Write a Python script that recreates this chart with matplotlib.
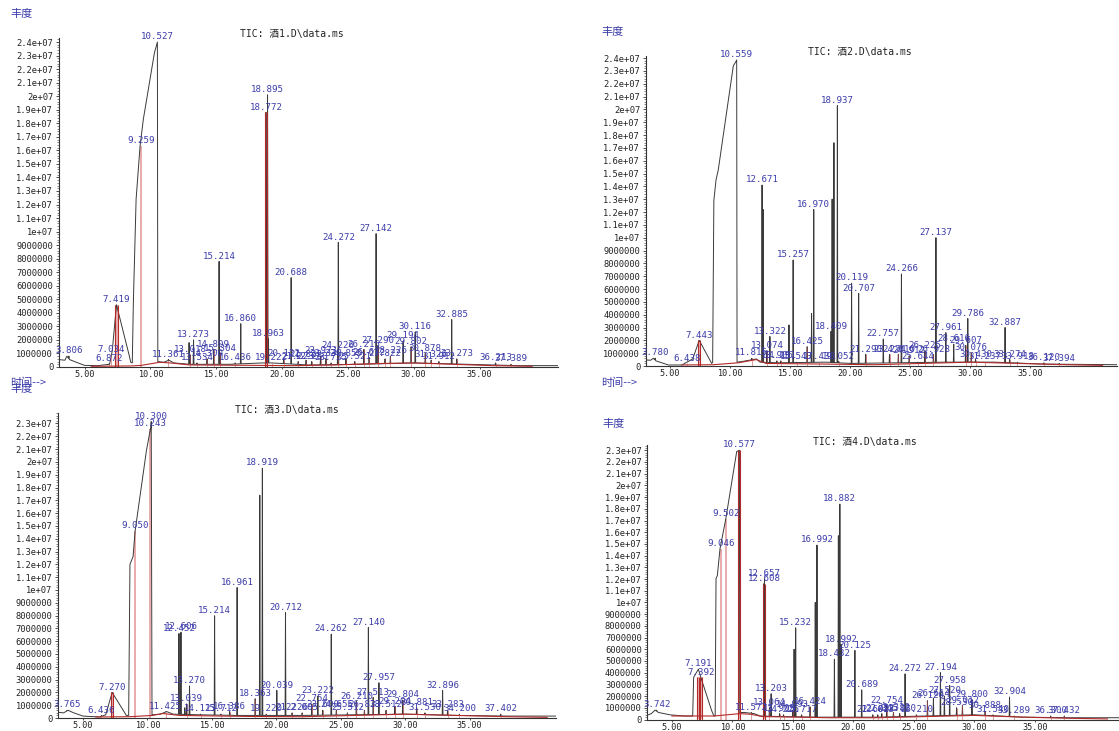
import numpy as np
import matplotlib
matplotlib.use("Agg")
import matplotlib.pyplot as plt
from matplotlib.ticker import FixedLocator, FuncFormatter, MultipleLocator

plt.rcParams['font.family'] = ['DejaVu Sans Mono', 'Noto Sans CJK SC']

# ------------------------------------------------------------------ data
titles = ["TIC: 酒1.D\\data.ms", "TIC: 酒2.D\\data.ms",
          "TIC: 酒3.D\\data.ms", "TIC: 酒4.D\\data.ms"]
y_axis_name = "丰度"
x_axis_name = "时间-->"
x_ticks = [5, 10, 15, 20, 25, 30, 35]

# ---- sample 1 (abundance in millions)
p1_base_t = [3.03, 3.5, 3.65, 3.85, 4.5, 5.0, 6.0, 6.9, 7.1, 7.419, 8.40, 8.5, 8.62, 8.70,
             8.91, 9.21, 9.46, 10.30, 10.50, 10.527, 10.56, 11.0, 11.4, 11.8, 13.0, 16.0,
             18.5, 19.2, 22.0, 26.0, 30.0, 34.0, 38.0, 40.96]
p1_base_h = [0.55, 0.5, 0.8, 0.55, 0.3, 0.12, 0.1, 0.2, 1.2, 4.6, 0.8, 0.35, 0.3, 4.7,
             12.4, 16.3, 18.3, 23.2, 23.9, 24.0, 0.4, 0.35, 0.5, 0.3, 0.2, 0.2,
             0.3, 0.3, 0.15, 0.2, 0.3, 0.2, 0.1, 0.1]
p1_peak_t = [3.806, 6.872, 7.034, 7.419, 9.259, 10.527, 11.361, 13.018, 13.273, 13.534,
             14.300, 14.809, 15.214, 15.304, 16.436, 16.860, 18.772, 18.895, 18.963, 19.222,
             20.122, 20.688, 21.223, 21.822, 22.253, 22.923, 23.338, 23.725, 24.226, 24.272,
             24.855, 25.521, 26.215, 26.612, 27.142, 27.290, 27.822, 28.226, 29.194, 29.802,
             30.116, 30.878, 31.326, 31.912, 32.885, 33.273, 36.213, 37.389]
p1_peak_h = [0.8, 0.25, 0.9, 4.6, 16.3, 24.0, 0.55, 0.9, 2.0, 0.3,
             0.6, 1.3, 7.8, 1.0, 0.3, 3.2, 18.8, 20.1, 2.1, 0.3,
             0.6, 6.6, 0.4, 0.5, 0.4, 0.8, 0.6, 0.3, 1.2, 9.2,
             0.6, 0.4, 1.3, 0.7, 9.85, 1.6, 0.6, 0.8, 1.9, 1.5,
             2.6, 1.0, 0.5, 0.4, 3.5, 0.6, 0.3, 0.2]
p1_extra_t = [12.934]
p1_extra_h = [1.8]
p1_dark_t = [7.419, 18.772]
p1_dark_h = [4.6, 18.8]
p1_light_t = [9.259]
p1_light_h = [16.3]
p1_rb_t = [5.5, 8.6, 9.3, 10.7, 11.5, 13.0, 18.0, 21.0, 24.0, 27.0, 30.0, 33.0, 36.0, 39.0]
p1_rb_h = [0.05, 0.08, 0.12, 0.35, 0.3, 0.15, 0.12, 0.1, 0.15, 0.25, 0.3, 0.2, 0.1, 0.05]

# ---- sample 2
p2_base_t = [2.99, 3.4, 3.62, 3.85, 4.87, 6.0, 6.9, 7.443, 8.48, 8.56, 8.66, 8.84, 9.03,
             10.28, 10.48, 10.559, 10.59, 11.0, 12.2, 12.5, 14.0, 18.0, 20.0, 24.0, 28.0,
             32.0, 36.0, 42.2]
p2_base_h = [0.47, 0.45, 0.6, 0.4, 0.08, 0.08, 0.55, 2.0, 0.2, 0.3, 12.9, 14.5, 15.3,
             23.4, 23.7, 23.85, 0.3, 0.35, 0.55, 0.3, 0.25, 0.3, 0.2, 0.25, 0.3,
             0.3, 0.15, 0.1]
p2_peak_t = [3.780, 6.438, 7.443, 10.559, 11.815, 12.671, 13.074, 13.322, 13.905, 14.231,
             15.257, 15.543, 16.425, 16.970, 17.430, 18.409, 18.937, 19.052, 20.119, 20.707,
             21.290, 22.757, 23.274, 24.010, 24.266, 24.912, 25.644, 26.225, 26.928, 27.137,
             27.961, 28.616, 29.607, 29.786, 30.076, 30.430, 31.237, 32.887, 33.274, 33.918,
             36.120, 37.394]
p2_peak_h = [0.6, 0.2, 2.0, 23.85, 0.6, 14.1, 1.2, 2.3, 0.4, 0.4,
             8.26, 0.3, 1.5, 12.2, 0.3, 2.7, 20.3, 0.35, 6.45, 5.65,
             0.9, 2.1, 0.9, 0.9, 7.17, 0.8, 0.3, 1.2, 0.9, 10.0,
             2.6, 1.7, 1.6, 3.7, 1.0, 0.5, 0.3, 3.0, 0.5, 0.3,
             0.25, 0.2]
p2_extra_t = [12.757, 14.910, 16.790, 18.500, 18.650]
p2_extra_h = [12.2, 3.2, 4.1, 13.0, 17.4]
p2_dark_t = [7.443]
p2_dark_h = [2.0]
p2_light_t = []
p2_light_h = []
p2_rb_t = [6.0, 8.6, 10.7, 12.2, 13.0, 18.0, 22.0, 26.0, 30.0, 34.0, 38.0, 41.0]
p2_rb_h = [0.08, 0.1, 0.25, 0.5, 0.2, 0.15, 0.1, 0.2, 0.3, 0.2, 0.1, 0.05]

# ---- sample 3
p3_base_t = [3.07, 3.5, 3.85, 4.3, 5.0, 6.3, 6.77, 7.27, 8.37, 8.55, 8.65, 8.89, 9.05,
             9.93, 10.243, 10.30, 10.36, 11.0, 11.5, 12.0, 14.0, 17.0, 19.0, 22.0, 26.0,
             30.0, 34.0, 38.0, 41.69]
p3_base_h = [0.45, 0.4, 0.6, 0.4, 0.15, 0.08, 0.25, 2.0, 0.2, 0.2, 12.0, 12.6, 14.6,
             20.9, 22.6, 22.7, 0.25, 0.3, 0.5, 0.3, 0.25, 0.2, 0.2, 0.2, 0.25,
             0.3, 0.2, 0.15, 0.15]
p3_peak_t = [3.765, 6.436, 7.270, 9.050, 10.243, 10.300, 11.425, 12.452, 12.606, 13.039,
             13.270, 14.123, 15.214, 15.712, 16.386, 16.961, 18.363, 18.919, 19.220, 20.039,
             20.712, 21.226, 22.005, 22.754, 23.222, 23.600, 24.262, 24.655, 25.512, 26.210,
             26.833, 27.140, 27.513, 27.957, 28.512, 29.204, 29.804, 30.881, 31.530, 32.896,
             33.283, 34.200, 37.402]
p3_peak_h = [0.6, 0.2, 2.0, 14.6, 22.6, 23.15, 0.5, 6.6, 6.7, 1.1,
             2.5, 0.3, 7.98, 0.3, 0.5, 10.19, 1.5, 19.5, 0.3, 2.15,
             8.24, 0.4, 0.4, 1.1, 1.7, 0.6, 6.55, 0.6, 0.4, 1.3,
             0.6, 7.08, 1.6, 2.75, 0.6, 0.9, 1.4, 0.8, 0.4, 2.15,
             0.6, 0.3, 0.3]
p3_extra_t = [12.900, 18.720]
p3_extra_h = [0.8, 17.4]
p3_dark_t = [7.270]
p3_dark_h = [2.0]
p3_light_t = [9.050, 10.243]
p3_light_h = [14.6, 22.6]
p3_rb_t = [6.0, 8.6, 10.4, 11.2, 12.5, 18.0, 22.0, 26.0, 30.0, 34.0, 38.0, 41.0]
p3_rb_h = [0.08, 0.1, 0.2, 0.35, 0.2, 0.12, 0.1, 0.2, 0.3, 0.2, 0.1, 0.05]

# ---- sample 4
p4_base_t = [2.97, 3.3, 3.61, 3.9, 4.85, 6.0, 6.72, 6.80, 7.191, 7.392, 8.29, 8.48, 8.58,
             8.65, 8.76, 8.98, 9.45, 10.36, 10.50, 10.577, 10.62, 11.0, 11.8, 12.3, 14.0,
             17.0, 19.5, 22.0, 26.0, 30.0, 34.0, 38.0, 41.95]
p4_base_h = [0.37, 0.5, 0.8, 0.6, 0.4, 0.3, 0.3, 3.6, 4.3, 3.6, 0.75, 0.3, 0.3,
             12.05, 12.3, 14.6, 17.1, 22.9, 22.95, 23.0, 0.6, 0.6, 0.5, 0.3, 0.25,
             0.2, 0.2, 0.2, 0.3, 0.4, 0.2, 0.15, 0.15]
p4_peak_t = [3.742, 7.191, 7.392, 9.046, 9.502, 10.577, 11.572, 12.608, 12.657, 13.064,
             13.203, 13.905, 14.226, 14.993, 15.232, 15.717, 16.424, 16.992, 18.432, 18.882,
             18.992, 20.125, 20.689, 21.602, 22.013, 22.345, 22.754, 23.312, 23.820, 24.272,
             25.210, 26.120, 26.614, 27.194, 27.520, 27.958, 28.530, 29.012, 29.800, 30.888,
             31.540, 32.904, 33.289, 36.300, 37.432]
p4_peak_h = [0.8, 4.3, 3.6, 14.6, 17.1, 23.0, 0.6, 11.6, 12.0, 1.0,
             2.2, 0.5, 0.4, 0.8, 7.83, 0.4, 1.07, 14.9, 5.15, 18.4,
             6.4, 5.9, 2.53, 0.4, 0.4, 0.5, 1.2, 0.6, 0.5, 3.9,
             0.4, 1.6, 1.8, 4.0, 2.0, 2.9, 1.0, 1.2, 1.7, 0.7,
             0.4, 1.92, 0.3, 0.3, 0.3]
p4_extra_t = [15.100, 16.850, 18.760]
p4_extra_h = [6.0, 10.0, 15.7]
p4_dark_t = [7.191, 7.392, 10.577, 12.608]
p4_dark_h = [3.6, 3.6, 23.0, 11.6]
p4_light_t = [9.046, 9.502]
p4_light_h = [14.6, 17.1]
p4_rb_t = [5.0, 8.5, 10.6, 11.5, 12.5, 18.0, 22.0, 26.0, 30.0, 34.0, 38.0, 41.0]
p4_rb_h = [0.3, 0.3, 0.5, 0.45, 0.25, 0.15, 0.15, 0.25, 0.35, 0.2, 0.1, 0.05]

samples = [
    (p1_base_t, p1_base_h, p1_peak_t, p1_peak_h, p1_extra_t, p1_extra_h,
     p1_dark_t, p1_dark_h, p1_light_t, p1_light_h, p1_rb_t, p1_rb_h),
    (p2_base_t, p2_base_h, p2_peak_t, p2_peak_h, p2_extra_t, p2_extra_h,
     p2_dark_t, p2_dark_h, p2_light_t, p2_light_h, p2_rb_t, p2_rb_h),
    (p3_base_t, p3_base_h, p3_peak_t, p3_peak_h, p3_extra_t, p3_extra_h,
     p3_dark_t, p3_dark_h, p3_light_t, p3_light_h, p3_rb_t, p3_rb_h),
    (p4_base_t, p4_base_h, p4_peak_t, p4_peak_h, p4_extra_t, p4_extra_h,
     p4_dark_t, p4_dark_h, p4_light_t, p4_light_h, p4_rb_t, p4_rb_h),
]

# ------------------------------------------------------------------ layout / style
W, H = 1119, 731
# (left, right, top, bottom) in pixels, y max, x limits
layout = [
    ((58.7, 558.0, 38.0, 367.0), 24.3e6, (3.03, 40.96)),
    ((645.7, 1117.0, 56.0, 366.0), 24.16e6, (2.99, 42.2)),
    ((58.0, 556.0, 413.0, 718.0), 23.82e6, (3.07, 41.69)),
    ((647.3, 1119.0, 445.0, 719.5), 23.45e6, (2.97, 41.95)),
]
title_pos = [(292, 34), (860, 52), (287, 410), (865, 442)]
yname_pos = [(10, 14), (601, 32), (10, 389), (602, 424)]
xname_pos = [(10, 383), (601, 383)]

BLUE = '#3d3dab'
TRACE = '#3a3a3a'
RED = '#b22a2a'
PINK = '#eab0b0'
LIGHTRED = '#e39494'
M = 1e6

fig = plt.figure(figsize=(W / 100, H / 100), dpi=100)


def build_trace(bt, bh, pt, ph, w=0.03):
    bt = np.asarray(bt, float)
    bh = np.asarray(bh, float)
    pts = list(zip(bt, bh))
    for t, h in sorted(zip(pt, ph)):
        if h <= np.interp(t, bt, bh) + 1e-9:
            continue
        lo, hi = t - w, t + w
        pts = [p for p in pts if not (lo < p[0] < hi)]
        pts += [(lo, np.interp(lo, bt, bh)), (t, h), (hi, np.interp(hi, bt, bh))]
    pts.sort(key=lambda p: p[0])
    x, y = zip(*pts)
    return np.array(x), np.array(y)


def ylab(v, pos):
    if v < 0.5:
        return "0"
    if v < 1e7 - 1:
        return f"{int(round(v))}"
    return f"{v / 1e7:g}e+07"


for i, (data, (box, ymax, xlim)) in enumerate(zip(samples, layout)):
    (bt, bh, pt, ph, et, eh, dt, dh, lt, lh, rt, rh) = data
    l, r, t, b = box
    ax = fig.add_axes([l / W, 1 - b / H, (r - l) / W, (b - t) / H])
    ax.set_xlim(*xlim)
    ax.set_ylim(0, ymax)

    # integrated peaks (double red line with pink fill) and light drop lines
    d = 0.08
    for tt, hh in zip(dt, dh):
        ax.fill_betweenx([0, hh * M], tt - d, tt + d, color=PINK, lw=0, zorder=1)
        ax.vlines([tt - d, tt + d], 0, hh * M, color=RED, lw=0.8, zorder=3)
    for tt, hh in zip(lt, lh):
        ax.vlines(tt, 0, hh * M, color=LIGHTRED, lw=1.1, zorder=1)

    x, y = build_trace(bt, bh, list(pt) + list(et), list(ph) + list(eh))
    ax.plot(x, y * M, color=TRACE, lw=0.7, zorder=2)

    # red integration baseline and small red drop marks
    ax.plot(rt, np.asarray(rh) * M, color=RED, lw=0.8, zorder=3)
    for tt, hh in zip(pt, ph):
        if hh <= 1.6 and tt >= 6:
            ax.vlines(tt, 0, hh * M, color='#c84a4a', lw=0.5, alpha=0.75, zorder=3)

    # peak labels
    for tt, hh in zip(pt, ph):
        ax.annotate(f"{tt:.3f}", xy=(tt, hh * M), xytext=(0, 0.6),
                    textcoords='offset points', ha='center', va='bottom',
                    fontsize=6.6, color=BLUE, annotation_clip=False, zorder=5)

    # axes styling
    for s in ('top', 'right'):
        ax.spines[s].set_visible(False)
    for s in ('left', 'bottom'):
        ax.spines[s].set_color('#333333')
        ax.spines[s].set_linewidth(0.8)
    ax.xaxis.set_major_locator(FixedLocator(x_ticks))
    ax.xaxis.set_major_formatter(FuncFormatter(lambda v, p: f"{v:.2f}"))
    ax.yaxis.set_major_locator(FixedLocator(np.arange(0, ymax + 1, 1e6)))
    ax.yaxis.set_major_formatter(FuncFormatter(ylab))
    ax.yaxis.set_minor_locator(MultipleLocator(2e5))
    ax.tick_params(axis='y', which='major', labelsize=6.3, colors='#333333',
                   labelcolor='#222222', length=2.5, width=0.6, pad=1.5)
    ax.tick_params(axis='x', which='major', labelsize=6.1, colors='#333333',
                   labelcolor='#222222', length=1.5, width=0.6, pad=0.8)
    ax.tick_params(axis='y', which='minor', length=1.3, width=0.5, colors='#555555')
    ax.patch.set_alpha(0)

    fig.text(title_pos[i][0] / W, 1 - title_pos[i][1] / H, titles[i],
             ha='center', va='center', fontsize=7, color='#222222')
    fig.text(yname_pos[i][0] / W, 1 - yname_pos[i][1] / H, y_axis_name,
             ha='left', va='center', fontsize=8, color=BLUE,
             family=['Noto Sans CJK SC', 'DejaVu Sans'])

for (px, py) in xname_pos:
    fig.text(px / W, 1 - py / H, x_axis_name, ha='left', va='center', fontsize=8,
             color=BLUE, family=['Noto Sans CJK SC', 'DejaVu Sans'])

fig.savefig("out.png", dpi=100)
